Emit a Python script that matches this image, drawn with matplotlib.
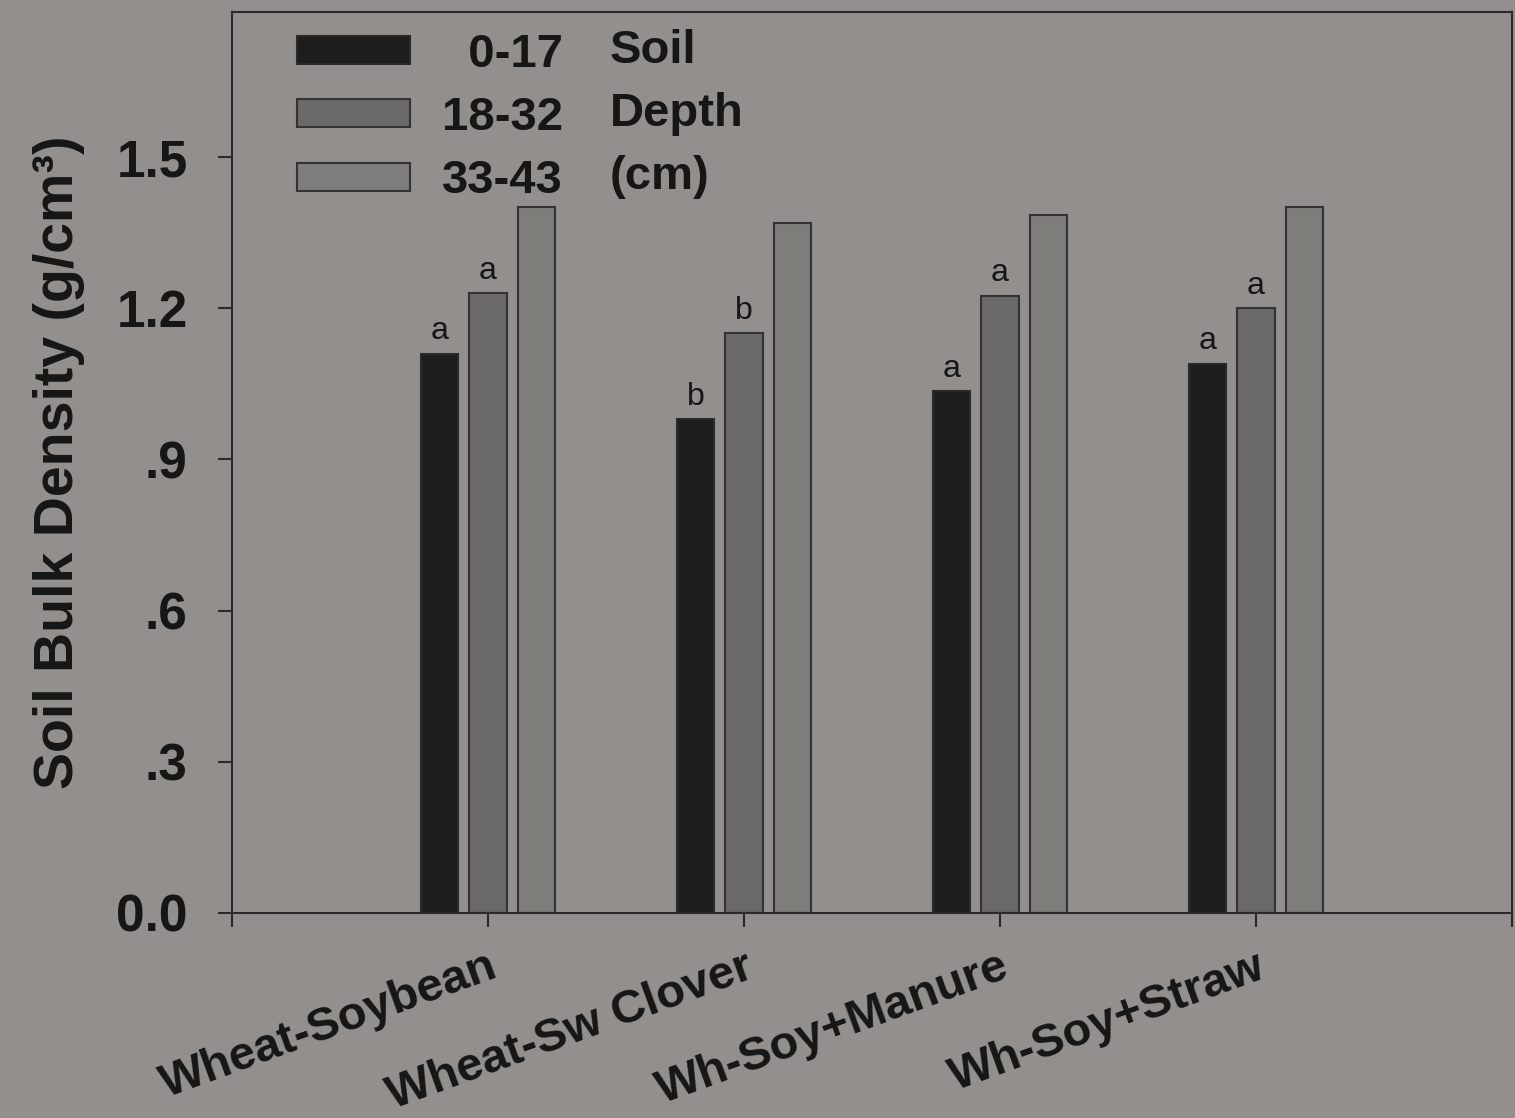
import matplotlib.pyplot as plt
import numpy as np

plt.rcParams['font.family'] = ['Liberation Sans', 'DejaVu Sans']
plt.rcParams['font.weight'] = 'bold'
plt.rcParams['axes.labelweight'] = 'bold'

rotations = ['Wheat-Soybean', 'Wheat-Sw Clover', 'Wh-Soy+Manure', 'Wh-Soy+Straw']
depth_labels = ['  0-17', '18-32', '33-43']
d0_17 = [1.11, 0.98, 1.035, 1.09]
d18_32 = [1.23, 1.15, 1.225, 1.20]
d33_43 = [1.40, 1.37, 1.385, 1.40]
letters_0_17 = ['a', 'b', 'a', 'a']
letters_18_32 = ['a', 'b', 'a', 'a']

bg = '#928f8c'
ink = '#161616'
fig = plt.figure(figsize=(15.15, 11.18), dpi=100, facecolor=bg)
ax = fig.add_axes([0.1531, 0.1834, 0.8449, 0.8059], facecolor=bg)

x = np.arange(1, len(rotations) + 1)
w = 0.145
off = 0.188
ax.bar(x - off, d0_17, w, color='#1d1d1d', edgecolor='#2a2a2a', lw=1.5, label=depth_labels[0])
ax.bar(x, d18_32, w, color='#6b6967', edgecolor='#333333', lw=1.5, label=depth_labels[1])
ax.bar(x + off, d33_43, w, color='#7f7d7a', edgecolor='#333333', lw=1.5, label=depth_labels[2])

for xi, v, t in zip(x - off, d0_17, letters_0_17):
    ax.text(xi, v + 0.015, t, ha='center', va='bottom', fontsize=23, fontweight='normal', color=ink)
for xi, v, t in zip(x, d18_32, letters_18_32):
    ax.text(xi, v + 0.015, t, ha='center', va='bottom', fontsize=23, fontweight='normal', color=ink)

ax.set_xlim(0, 5)
ax.set_ylim(0, 1.788)
ax.set_yticks([0, 0.3, 0.6, 0.9, 1.2, 1.5])
ax.set_yticklabels(['0.0', '.3', '.6', '.9', '1.2', '1.5'], fontsize=37, color=ink)
ax.set_xticks(x)
ax.set_xticklabels(rotations, fontsize=34, rotation=20, ha='right', va='top',
                   rotation_mode='anchor', color=ink)
ax.set_xticks([0, 5], minor=True)
ax.tick_params(axis='both', which='both', direction='out', length=10, width=1.5, color='#2a2a2a')
ax.tick_params(axis='x', which='major', pad=13)
ax.tick_params(axis='y', pad=22)
for s in ax.spines.values():
    s.set_linewidth(1.5)
    s.set_color('#2a2a2a')

ax.set_ylabel('Soil Bulk Density (g/cm³)', fontsize=40, fontweight='bold', color=ink, labelpad=22)

leg = ax.legend(loc='upper left', bbox_to_anchor=(0.0508, 0.977), frameon=False, fontsize=34,
                handlelength=2.4, handleheight=0.53, labelspacing=0.41, handletextpad=0.68,
                borderaxespad=0, borderpad=0)
for t in leg.get_texts():
    t.set_color(ink)
for tx, ty, s in [(0.2953, 0.9434, 'Soil'), (0.2953, 0.8735, 'Depth'), (0.2953, 0.8035, '(cm)')]:
    ax.text(tx, ty, s, transform=ax.transAxes, fontsize=34, va='baseline', ha='left', color=ink)

fig.savefig('out.png', dpi=100, facecolor=bg)
